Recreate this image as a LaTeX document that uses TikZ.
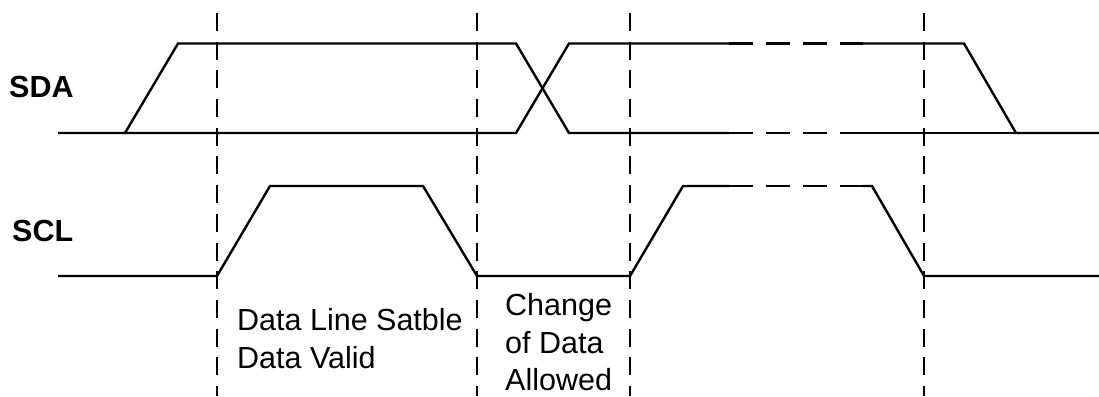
\documentclass[tikz,border=0pt]{standalone}
\usepackage{fontspec}
\setmainfont{Liberation Sans}
\usepackage{tikz}
\usetikzlibrary{calc}
\newcommand{\sdahi}{352.5}
\newcommand{\sdalo}{263}
\newcommand{\sclhi}{210}
\newcommand{\scllo}{120}

\tikzset{
  sig/.style={line width=2.4pt},
  skip/.style={dash pattern=on 24pt off 13pt},
  gridline/.style={line width=1.7pt,dash pattern=on 18pt off 10.7pt},
  lbl/.style={inner sep=0pt,font=\fontsize{30.5}{37}\selectfont},
}

\begin{document}
\begin{tikzpicture}[x=1pt,y=1pt]
\useasboundingbox (0,0) rectangle (1099,396);
% SDA
\coordinate (sda0) at (58,\sdalo);
\coordinate (sda1) at (125,\sdalo);
\coordinate (sda2) at (178,\sdahi);
\coordinate (sda3) at (516,\sdahi);
\coordinate (sda4) at (569,\sdalo);
\coordinate (sda5) at (729,\sdalo);
\coordinate (sda6) at (863,\sdalo);
\coordinate (sda7) at (1016,\sdalo);
\coordinate (sda8) at (1099,\sdalo);
\coordinate (sdb3) at (516,\sdalo);
\coordinate (sdb4) at (569,\sdahi);
\coordinate (sdb5) at (729,\sdahi);
\coordinate (sdb6) at (863,\sdahi);
\coordinate (sdb7) at (964,\sdahi);
% SCL
\coordinate (scl0) at (58,\scllo);
\coordinate (scl1) at (217,\scllo);
\coordinate (scl2) at (270,\sclhi);
\coordinate (scl3) at (423,\sclhi);
\coordinate (scl4) at (477,\scllo);
\coordinate (scl5) at (630,\scllo);
\coordinate (scl6) at (683,\sclhi);
\coordinate (scl7) at (729,\sclhi);
\coordinate (scl8) at (863,\sclhi);
\coordinate (scl9) at (872,\sclhi);
\coordinate (scl10) at (924,\scllo);
\coordinate (scl11) at (1099,\scllo);

\draw[sig] (sda0)--(sda1)--(sda2)--(sda3)--(sda4)--(sda5);
\draw[sig] (sda1)--(sdb3)--(sdb4)--(sdb5);
\draw[sig,skip] (sda5)--(sda6);
\draw[sig,skip] (sdb5)--(sdb6);
\draw[sig] (sdb6)--(sdb7)--(sda7)--(sda8);
\draw[sig] (sda6)--(sda7);

\draw[sig] (scl0)--(scl1)--(scl2)--(scl3)--(scl4)--(scl5)--(scl6)--(scl7);
\draw[sig,skip] (scl7)--(scl8);
\draw[sig] (scl8)--(scl9)--(scl10)--(scl11);

\foreach \x [count=\i] in {217,477,630,924}{
\coordinate (v\i t) at (\x,383);
\coordinate (v\i b) at (\x,0);
\draw[gridline] (v\i t)--(v\i b);
}

\node[lbl,font=\fontsize{30.5}{37}\selectfont\bfseries,anchor=base west] (sda) at (9,298) {SDA};
\node[lbl,font=\fontsize{30.5}{37}\selectfont\bfseries,anchor=base west] (scl) at (12,154) {SCL};
% base of a multi-line node = its last line
\node[lbl,align=left,anchor=base west] (valid) at (237,28) {Data Line Satble\\Data Valid};
\node[lbl,align=left,anchor=base west] (change) at (505,6) {Change\\of Data\\Allowed};
\end{tikzpicture}
\end{document}
